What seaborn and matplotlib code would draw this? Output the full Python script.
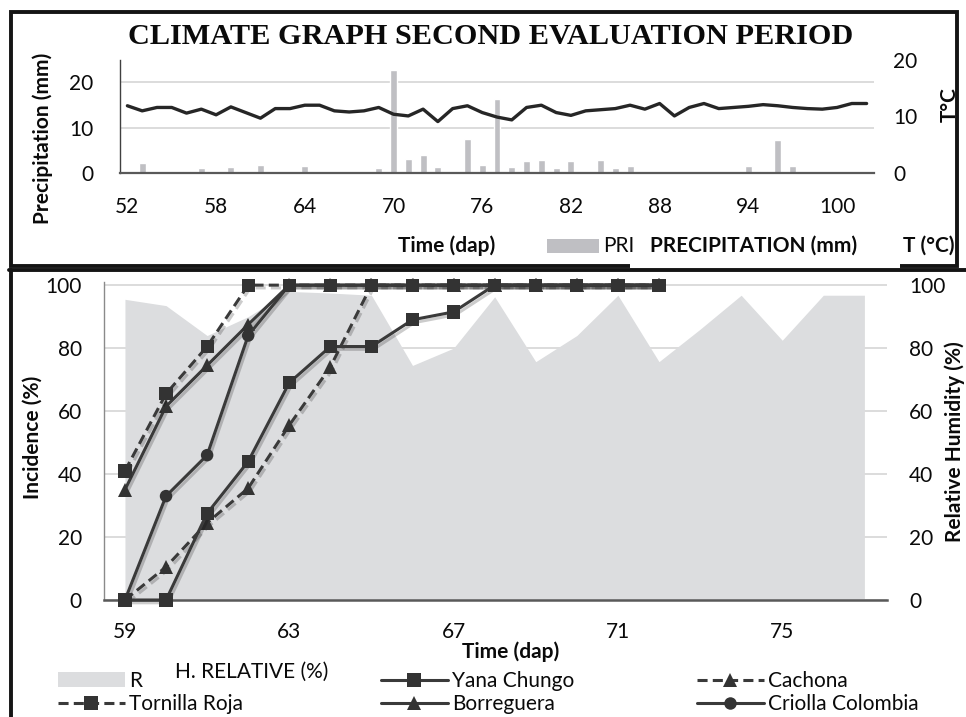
import numpy as np
import seaborn as sns
import matplotlib
matplotlib.use("Agg")
import matplotlib.pyplot as plt
import matplotlib.patheffects as pe
from matplotlib.lines import Line2D
from matplotlib.patches import Patch, Rectangle

# Datos (panel climatico)
dias_clima = list(range(52, 103))
precipitacion = [0.2, 2.2, 0, 0, 0.4, 1.0, 0, 1.25, 0.3, 1.8,
                 0, 0, 1.5, 0, 0, 0.2, 0.3, 1.0, 22.6, 3.1,
                 4.0, 1.25, 0.5, 7.4, 1.8, 16.2, 1.4, 2.7, 2.8, 1.1,
                 2.6, 0.2, 2.9, 1.1, 1.5, 0, 0.3, 0.3, 0, 0.2,
                 0, 0.3, 1.6, 0.5, 7.35, 1.5, 0, 0, 0.2, 0.2, 0]
temperatura = [11.9, 11.0, 11.6, 11.6, 10.6, 11.3, 10.3, 11.7, 10.7, 9.7,
               11.4, 11.4, 12.0, 12.0, 11.0, 10.8, 11.0, 11.6, 10.4, 10.1,
               11.3, 9.1, 11.4, 11.9, 10.7, 9.9, 9.4, 11.6, 12.0, 10.7,
               10.2, 11.0, 11.2, 11.4, 12.0, 11.3, 12.3, 10.1, 11.6, 12.3,
               11.4, 11.6, 11.8, 12.1, 11.9, 11.6, 11.4, 11.3, 11.6, 12.3, 12.3]

# Humedad relativa (%)
dias_hr = list(range(59, 78))
humedad_rel = [95.5, 93.5, 84, 90, 98, 97.5, 96.8, 74.5, 80, 96.3,
               75.7, 84, 96.8, 75.7, 86, 96.8, 82.5, 96.8, 96.8]

# Incidencia (%) por variedad
dias_inc = list(range(59, 73))
yana_chungo = [0, 0, 27.5, 44, 69, 80.5, 80.5, 89, 91.5, 100, 100, 100, 100, 100]
tornilla_roja = [41, 65.5, 80.5, 100, 100, 100, 100, 100, 100, 100, 100, 100, 100, 100]
cachona = [0, 10.5, 24.5, 35.5, 55.5, 74, 100, 100, 100, 100, 100, 100, 100, 100]
borreguera = [35, 61.5, 74.5, 87.5, 100, 100, 100, 100, 100, 100, 100, 100, 100, 100]
criolla_colombia = [0, 33, 46, 84, 100, 100, 100, 100, 100, 100, 100, 100, 100, 100]

W, H = 966, 717


def fx(x):
    return x / W


def fy(y):
    return 1 - y / H


sns.set_theme(style="white")
plt.rcParams["font.family"] = ["Lato", "DejaVu Sans"]
plt.rcParams["text.color"] = "#0a0a0a"
plt.rcParams["xtick.color"] = "#0a0a0a"
plt.rcParams["ytick.color"] = "#0a0a0a"

BARRA = "#bfbfc3"
AREA = "#dcdddf"
LINEA = "#3a3a3a"
GRID = "#d9d9d9"
FS = 15

fig = plt.figure(figsize=(9.66, 7.17), dpi=100)

# ---------------- Panel superior: clima ----------------
axP = fig.add_axes([fx(120), fy(173), fx(874) - fx(120), (173 - 60) / H])
sns.barplot(x=dias_clima, y=precipitacion, native_scale=True, width=0.47,
            color=BARRA, saturation=1, errorbar=None, ax=axP)
axP.set_ylim(0, 24.9)
axP.set_yticks([0, 10, 20])
axP.yaxis.grid(True, color=GRID, lw=1.3)
axP.set_axisbelow(True)

axT = axP.twinx()
sns.lineplot(x=dias_clima, y=temperatura, ax=axT, color="#262626", lw=2.4)
axT.set_ylim(0, 20)
axT.set_yticks([0, 10, 20])

axP.set_xlim(51.5, 102.5)
axP.set_xticks(range(52, 101, 6))
for a in (axP, axT):
    a.set_xlabel("")
    a.set_ylabel("")
    for s in a.spines.values():
        s.set_visible(False)
axP.spines["left"].set_visible(True)
axP.spines["left"].set_color("#404040")
axP.spines["left"].set_linewidth(1.0)
axP.spines["bottom"].set_visible(True)
axP.spines["bottom"].set_color("#595959")
axP.spines["bottom"].set_linewidth(1.6)
axP.tick_params(axis="x", length=0, pad=17, labelsize=FS)
axP.tick_params(axis="y", length=0, pad=19, labelsize=FS)
axT.tick_params(axis="y", length=0, pad=14, labelsize=FS)

fig.text(fx(491), fy(37), "CLIMATE GRAPH SECOND EVALUATION PERIOD",
         family=["Liberation Serif", "DejaVu Serif"], weight="bold",
         fontsize=21.8, ha="center", va="center")
fig.text(fx(43), fy(138), "Precipitation (mm)", rotation=90, weight="bold",
         fontsize=FS, ha="center", va="center")
fig.text(fx(950), fy(105), "T°C", rotation=90, weight="bold",
         fontsize=FS, ha="center", va="center")

# marco del panel superior
fig.add_artist(Rectangle((fx(11), fy(266)), fx(957) - fx(11), (266 - 12) / H,
                         transform=fig.transFigure, fill=False,
                         ec="#141414", lw=2.8))

# leyenda del panel superior
fig.text(fx(447), fy(246), "Time (dap)", weight="bold", fontsize=FS,
         ha="center", va="center")
fig.add_artist(Rectangle((fx(547), fy(253)), (599 - 547) / W, 14 / H,
                         transform=fig.transFigure, fc=BARRA, ec="none"))
fig.text(fx(603), fy(246), "PRI", fontsize=FS, ha="left", va="center")
fig.add_artist(Rectangle((fx(630), fy(268.5)), (900 - 630) / W, (268.5 - 231) / H,
                         transform=fig.transFigure, fc="white", ec="none"))
fig.text(fx(754), fy(246), "PRECIPITATION (mm)", weight="bold", fontsize=FS,
         ha="center", va="center")
fig.text(fx(903), fy(246), "T (°C)", weight="bold", fontsize=FS,
         ha="left", va="center")

# ---------------- Panel inferior: incidencia ----------------
axI = fig.add_axes([fx(104), fy(600), fx(887) - fx(104), (600 - 282) / H])
axRH = axI.twinx()
axI.set_zorder(axRH.get_zorder() + 1)
axI.patch.set_visible(False)

axRH.fill_between(dias_hr, humedad_rel, color=AREA, lw=0, zorder=1)
axRH.set_axisbelow(True)
axRH.yaxis.grid(True, color=GRID, lw=1.3)

sombra = [pe.SimpleLineShadow(offset=(1.5, -2), shadow_color="black", alpha=0.2),
          pe.Normal()]
series = [
    (cachona, (0, (3.3, 1.7)), "^", 10),
    (borreguera, "-", "^", 10),
    (criolla_colombia, "-", "o", 9),
    (tornilla_roja, (0, (3.3, 1.7)), "s", 9.5),
    (yana_chungo, "-", "s", 9.5),
]
for valores, estilo, marca, tam in series:
    sns.lineplot(x=dias_inc, y=valores, ax=axI, color=LINEA, lw=2.2,
                 linestyle=estilo, marker=marca, markersize=tam,
                 markeredgewidth=0, markerfacecolor="#333333",
                 clip_on=False, zorder=3, path_effects=sombra, legend=False)

for a in (axI, axRH):
    a.set_ylim(0, 101)
    a.set_yticks(range(0, 101, 20))
    a.set_xlabel("")
    a.set_ylabel("")
    for s in a.spines.values():
        s.set_visible(False)
axI.set_xlim(58.49, 77.55)
axI.set_xticks([59, 63, 67, 71, 75])
axI.spines["left"].set_visible(True)
axI.spines["left"].set_color("#8a8a8a")
axI.spines["left"].set_linewidth(1.0)
axI.spines["bottom"].set_visible(True)
axI.spines["bottom"].set_color("#595959")
axI.spines["bottom"].set_linewidth(1.8)
axI.tick_params(axis="x", length=0, pad=16, labelsize=FS)
axI.tick_params(axis="y", length=0, pad=16, labelsize=FS)
axRH.tick_params(axis="y", length=0, pad=16, labelsize=FS)

fig.text(fx(33), fy(437), "Incidence (%)", rotation=90, weight="bold",
         fontsize=FS, ha="center", va="center")
fig.text(fx(955), fy(442), "Relative Humidity (%)", rotation=90, weight="bold",
         fontsize=FS, ha="center", va="center")
fig.text(fx(511), fy(652), "Time (dap)", weight="bold", fontsize=FS,
         ha="center", va="center")

# bordes del panel inferior
fig.add_artist(Line2D([fx(9), 1], [fy(270), fy(270)], transform=fig.transFigure,
                      color="#141414", lw=2.8))
fig.add_artist(Line2D([fx(11), fx(11)], [fy(270), 0], transform=fig.transFigure,
                      color="#141414", lw=2.8))

# leyenda inferior (tres columnas)
def linea(estilo, marca, tam):
    return Line2D([], [], color=LINEA, lw=2.2, linestyle=estilo, marker=marca,
                  markersize=tam, markeredgewidth=0, markerfacecolor="#333333")


columnas = [
    (58, [Patch(fc=AREA, ec="none"), linea((0, (3.3, 1.7)), "s", 9.5)],
     ["R", "Tornilla Roja"]),
    (381, [linea("-", "s", 9.5), linea("-", "^", 10)],
     ["Yana Chungo", "Borreguera"]),
    (697, [linea((0, (3.3, 1.7)), "^", 10), linea("-", "o", 9)],
     ["Cachona", "Criolla Colombia"]),
]
for x0, hs, ls in columnas:
    fig.legend(hs, ls, loc="upper left", bbox_to_anchor=(fx(x0), fy(671)),
               frameon=False, fontsize=FS, handlelength=3.2, handletextpad=0.2,
               labelspacing=0.15, borderpad=0, borderaxespad=0)
fig.text(fx(175), fy(672), "H. RELATIVE (%)", fontsize=FS, ha="left", va="center")

fig.savefig("out.png", dpi=100)
